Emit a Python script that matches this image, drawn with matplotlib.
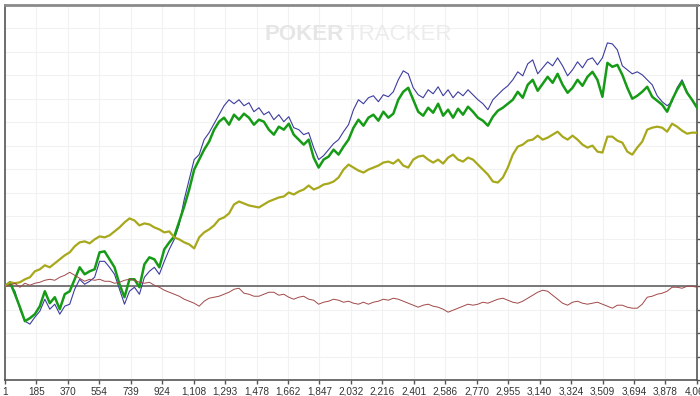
import numpy as np
import matplotlib
matplotlib.use("Agg")
import matplotlib.pyplot as plt

# ---- data (one gridline = 23.5 units) ----
tick_hands = [1, 185, 370, 554, 739, 924, 1108, 1293, 1478, 1662, 1847, 2032,
              2216, 2401, 2586, 2770, 2955, 3140, 3324, 3509, 3694, 3878, 4063]
tick_labels = ["1", "185", "370", "554", "739", "924", "1,108", "1,293", "1,478",
               "1,662", "1,847", "2,032", "2,216", "2,401", "2,586", "2,770",
               "2,955", "3,140", "3,324", "3,509", "3,694", "3,878", "4,063"]

green = [0, 4, -8, -21, -35, -32, -28, -20, -5, -17,
         -11, -23, -8, -5, 7, 19, 12, 15, 17, 34,
         35, 27, 19, 2, -11, 7, 7, -1, 22, 29,
         27, 19, 37, 44, 50, 65, 80, 97, 117, 127,
         137, 145, 157, 165, 169, 162, 172, 167, 173, 169,
         162, 167, 165, 157, 152, 160, 157, 163, 152, 147,
         142, 147, 129, 119, 127, 130, 137, 132, 140, 147,
         159, 167, 161, 169, 172, 166, 175, 169, 173, 187,
         195, 199, 187, 175, 171, 179, 174, 183, 171, 177,
         169, 178, 172, 180, 175, 169, 166, 161, 170, 176,
         179, 183, 187, 195, 189, 202, 207, 196, 203, 210,
         204, 213, 202, 194, 199, 207, 201, 210, 215, 207,
         190, 224, 220, 222, 212, 199, 188, 191, 195, 200,
         190, 186, 182, 175, 187, 197, 205, 194, 187, 179]

blue = [0, 2, -5, -23, -35, -38, -31, -25, -13, -23,
        -18, -28, -20, -18, -3, 7, 2, 5, 9, 25,
        25, 19, 12, -3, -18, -5, -1, -8, 9, 15,
        19, 12, 25, 37, 47, 62, 87, 107, 127, 132,
        147, 154, 163, 172, 181, 187, 183, 187, 181, 184,
        175, 179, 172, 175, 167, 172, 165, 170, 159, 157,
        152, 154, 139, 127, 131, 137, 143, 147, 155, 162,
        177, 187, 183, 189, 191, 185, 192, 190, 195, 207,
        216, 213, 199, 192, 189, 197, 193, 200, 191, 197,
        189, 195, 191, 197, 192, 187, 183, 177, 187, 192,
        197, 201, 207, 215, 211, 223, 227, 213, 219, 225,
        221, 229, 221, 211, 217, 225, 219, 227, 229, 222,
        229, 244, 243, 237, 221, 217, 213, 215, 212, 207,
        202, 191, 185, 181, 185, 199, 207, 195, 187, 180]

olive = [0, 4, 3, 4, 7, 9, 15, 17, 21, 19,
         23, 27, 31, 34, 40, 44, 45, 43, 47, 50,
         49, 51, 55, 59, 64, 68, 66, 61, 63, 62,
         59, 57, 54, 55, 49, 47, 44, 42, 38, 49,
         54, 57, 61, 67, 69, 73, 82, 85, 83, 81,
         80, 79, 82, 85, 87, 89, 90, 94, 92, 95,
         97, 101, 97, 99, 102, 103, 105, 109, 117, 122,
         119, 116, 114, 117, 119, 121, 124, 125, 123, 127,
         121, 119, 127, 130, 131, 127, 124, 127, 123, 129,
         132, 127, 125, 129, 127, 122, 117, 112, 105, 104,
         109, 119, 132, 140, 142, 146, 147, 151, 147, 149,
         152, 155, 150, 147, 151, 147, 142, 139, 141, 135,
         134, 150, 150, 146, 144, 135, 132, 139, 145, 157,
         159, 160, 159, 155, 163, 160, 156, 153, 154, 154]

red = [0, 1, 3, -1, 3, 1, 3, 4, 6, 7,
       6, 9, 11, 14, 11, 8, 5, 7, 6, 7,
       5, 5, 3, 4, 6, 7, 6, 4, 3, 4,
       1, -1, -4, -6, -8, -10, -13, -15, -17, -20,
       -15, -12, -11, -10, -8, -6, -3, -2, -7, -8,
       -10, -10, -8, -6, -6, -9, -8, -11, -13, -11,
       -10, -13, -14, -18, -16, -15, -13, -14, -16, -15,
       -17, -18, -16, -18, -16, -15, -13, -14, -12, -13,
       -15, -17, -19, -21, -19, -18, -20, -21, -23, -26,
       -24, -22, -20, -18, -19, -18, -16, -17, -15, -13,
       -12, -14, -16, -17, -15, -12, -9, -6, -4, -5,
       -9, -13, -17, -19, -16, -15, -17, -18, -17, -16,
       -18, -20, -22, -19, -19, -21, -22, -22, -18, -11,
       -10, -8, -7, -5, -1, -1, -2, 0, 0, -1]

hands = np.linspace(1, 4063.5, len(green))

GRID = 23.5

# ---- figure ----
W, H = 700, 396
fig = plt.figure(figsize=(W / 100, H / 100), dpi=100)
fig.patch.set_facecolor("white")
ax = fig.add_axes([5 / W, (396 - 380) / H, (697 - 5) / W, (380 - 5) / H])
ax.set_facecolor("white")

ax.set_xlim(1, 4063.5)
ax.set_ylim(-4 * GRID, 12 * GRID)

ax.set_xticks(tick_hands)
ax.set_xticklabels(tick_labels)
ax.set_yticks(np.arange(-4, 13) * GRID)
ax.yaxis.tick_right()
ax.tick_params(axis="y", which="both", direction="out", length=5, width=1,
               color="#555555", labelright=False, labelleft=False)
ax.tick_params(axis="x", direction="out", length=3, width=1, color="#555555",
               labelsize=7.2, labelcolor="#333333", pad=2)
for lab in ax.get_xticklabels():
    lab.set_family(["Liberation Sans", "DejaVu Sans"])

ax.grid(True, color="#f1f1f1", linewidth=0.8, zorder=0)
ax.set_axisbelow(True)

for side in ["left", "bottom", "right"]:
    ax.spines[side].set_color("#555555")
    ax.spines[side].set_linewidth(1.2)
ax.spines["top"].set_color("#8a8a8a")
ax.spines["top"].set_linewidth(2.0)

# watermark
fig.text(344 / W, 1 - 35 / H, "POKER", ha="right", va="center",
         fontsize=16, fontweight="bold", color="#e6e6e6",
         family=["Liberation Sans", "DejaVu Sans"], zorder=0)
fig.text(346 / W, 1 - 35 / H, "TRACKER", ha="left", va="center",
         fontsize=16, color="#ececec",
         family=["Liberation Sans", "DejaVu Sans"], zorder=0)

ax.axhline(0, color="#555555", linewidth=1.1, zorder=2)

ax.plot(hands, blue, color="#3c3ca0", linewidth=0.8, zorder=3)
ax.plot(hands, green, color="#169b16", linewidth=1.8, zorder=4)
ax.plot(hands, olive, color="#a8a81c", linewidth=1.6, zorder=4)
ax.plot(hands, red, color="#a04848", linewidth=0.7, zorder=5)

fig.savefig("out.png", dpi=100, facecolor="white")
